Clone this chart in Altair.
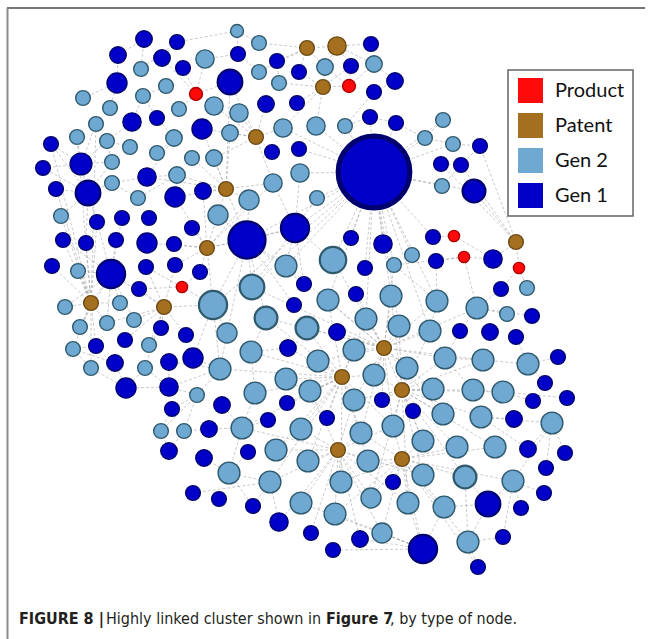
import altair as alt
import pandas as pd

# ---- node data: centre x, centre y (page units, y downwards) and radius ----
gen1_x = [144, 177, 118, 162, 183, 117, 230, 132, 157, 202, 51, 81, 43, 147, 56, 88, 175, 203,
          371, 238, 277, 351, 395, 299, 374, 266, 297, 370, 396, 374, 272, 299, 441, 480, 461, 474,
          97, 122, 149, 192, 63, 86, 116, 147, 174, 247, 52, 111, 146, 175, 200, 139, 161, 186,
          96, 125, 169, 193, 115, 126, 169, 295, 351, 383, 433, 365, 436, 304, 294, 356, 337, 288,
          287, 382, 493, 501, 532, 460, 490, 516, 558, 545, 567, 533, 172, 222, 268, 327, 209, 169,
          204, 248, 193, 219, 253, 279, 311, 333, 413, 514, 528, 565, 546, 393, 544, 488, 521, 360,
          423, 503, 478]
gen1_y = [39, 42, 55, 58, 68, 83, 82, 122, 118, 129, 144, 164, 168, 177, 189, 193, 197, 191,
          44, 54, 61, 66, 81, 72, 92, 104, 103, 117, 123, 172, 152, 149, 164, 146, 165, 191,
          222, 218, 218, 228, 240, 243, 240, 243, 244, 240, 266, 274, 267, 265, 272, 289, 328, 335,
          346, 340, 362, 358, 363, 388, 387, 228, 238, 244, 237, 268, 261, 284, 305, 294, 332, 348,
          403, 400, 259, 289, 316, 331, 332, 337, 357, 383, 398, 401, 409, 405, 420, 418, 429, 451,
          458, 452, 493, 499, 506, 522, 533, 550, 411, 419, 449, 453, 468, 482, 493, 504, 508, 539,
          549, 537, 567]
gen1_r = [10, 9, 10, 10, 9, 12, 15, 11, 9, 12, 9, 13, 9, 11, 9, 15, 12, 10,
          9, 9, 9, 9, 10, 9, 9, 10, 9, 9, 9, 43, 9, 9, 9, 9, 9, 14,
          9, 9, 9, 9, 9, 9, 9, 12, 9, 22, 9, 17, 9, 9, 9, 9, 9, 9,
          9, 9, 10, 12, 10, 12, 11, 17, 9, 11, 9, 9, 9, 9, 9, 9, 10, 10,
          9, 9, 11, 9, 9, 9, 10, 9, 9, 9, 9, 9, 9, 10, 9, 9, 10, 10,
          10, 9, 9, 9, 9, 11, 9, 9, 9, 10, 10, 9, 9, 9, 9, 15, 9, 10,
          17, 9, 9]

gen2_x = [237, 205, 141, 166, 83, 143, 214, 110, 179, 96, 77, 107, 174, 230, 130, 157, 192, 214,
          112, 177, 112, 138, 259, 325, 374, 259, 279, 239, 283, 316, 345, 425, 443, 300, 273, 249,
          317, 453, 442, 218, 61, 78, 213, 65, 120, 80, 107, 134, 227, 73, 149, 220, 91, 145,
          197, 286, 333, 394, 412, 252, 328, 391, 437, 266, 307, 366, 399, 430, 251, 354, 445, 286,
          318, 374, 407, 433, 255, 310, 354, 527, 477, 507, 483, 528, 473, 503, 161, 184, 242, 301,
          276, 308, 229, 270, 301, 443, 481, 552, 361, 393, 423, 457, 495, 368, 341, 423, 465, 513,
          371, 408, 444, 335, 382, 468]
gen2_y = [31, 59, 69, 86, 98, 96, 106, 108, 109, 124, 137, 141, 138, 133, 147, 153, 158, 158,
          162, 175, 183, 198, 43, 67, 64, 72, 83, 113, 128, 126, 126, 138, 120, 173, 183, 200,
          198, 144, 186, 215, 216, 271, 305, 307, 303, 327, 323, 320, 333, 349, 345, 369, 368, 368,
          395, 266, 260, 265, 255, 287, 300, 296, 301, 318, 328, 319, 326, 331, 352, 350, 358, 379,
          361, 375, 368, 389, 393, 391, 400, 288, 308, 314, 360, 364, 390, 392, 431, 431, 428, 429,
          450, 461, 473, 482, 503, 414, 417, 423, 433, 426, 441, 447, 447, 461, 482, 475, 477, 481,
          498, 503, 507, 514, 533, 542]
gen2_r = [8, 11, 9, 9, 9, 9, 11, 9, 9, 9, 9, 9, 10, 10, 9, 9, 9, 10,
          9, 10, 9, 9, 9, 10, 10, 9, 9, 11, 11, 11, 9, 9, 9, 11, 11, 12,
          9, 9, 9, 12, 9, 9, 17, 9, 9, 9, 9, 9, 12, 9, 9, 13, 9, 9,
          9, 13, 16, 9, 9, 15, 13, 13, 13, 14, 14, 13, 13, 13, 13, 13, 13, 13,
          13, 13, 13, 13, 13, 13, 13, 9, 13, 9, 13, 13, 13, 13, 9, 9, 13, 13,
          13, 13, 13, 13, 13, 13, 13, 13, 13, 13, 13, 13, 13, 13, 13, 13, 14, 13,
          12, 13, 13, 13, 12, 13]

patent_x = [307, 337, 323, 256, 226, 207, 91, 164, 516, 384, 342, 402, 338, 402]
patent_y = [48, 46, 87, 137, 189, 248, 303, 307, 242, 348, 377, 390, 450, 459]
patent_r = [9, 11, 9, 9, 9, 9, 9, 9, 9, 9, 9, 9, 9, 9]

product_x = [196, 349, 182, 454, 464, 519]
product_y = [94, 86, 287, 236, 257, 268]
product_r = [8, 8, 7, 7, 7, 7]

# ---- links: node -> linked nodes (A = Gen 1, B = Gen 2, P = Patent, R = Product) ----
links = {
    "P10": ["B57", "B61", "B62", "B66", "B67", "B68", "B70", "B73", "B74", "B75", "B76", "B79",
            "B65", "B64", "B60", "B56", "B71", "B63", "B96", "B99", "B100", "B101", "B81", "B83",
            "A71", "A70", "A74", "B58"],
    "P11": ["B65", "B66", "B69", "B70", "B72", "B73", "B74", "B77", "B78", "B79", "B89", "B90",
            "B91", "B92", "B99", "B100", "B104", "B105", "B64", "B61", "B52", "B94", "A72", "A73",
            "A88"],
    "P12": ["B74", "B75", "B76", "B79", "B96", "B97", "B100", "B101", "B102", "B103", "B106",
            "B107", "B110", "B67", "B68", "B71", "B83", "B85", "B86", "B62", "A99", "A74", "B109"],
    "P13": ["B90", "B92", "B99", "B104", "B105", "B109", "B112", "B113", "B95", "B94", "B91",
            "B78", "B79", "B100", "B89", "A96", "A97", "A108", "B106", "B110"],
    "P14": ["B100", "B101", "B104", "B106", "B107", "B109", "B110", "B111", "B113", "B114",
            "B102", "B103", "B108", "A109", "A104", "B99", "B105", "A111", "B112"],
    "P7": ["B41", "B42", "B44", "B46", "B47", "B50", "B53", "A47", "A48", "A55", "A41", "A42",
           "B45", "B11", "A15", "A37", "B10", "A11"],
    "P8": ["A48", "A52", "A53", "A54", "B48", "B51", "B47", "A49", "A50", "B43", "A56", "B54"],
    "P6": ["A46", "A44", "A45", "A50", "A51", "A40", "B40", "B36", "A17", "A18", "B43", "A62", "B35"],
    "P5": ["A18", "B18", "B17", "B36", "B40", "A7", "A10", "B20", "B35", "A17", "A14", "B14", "A46"],
    "P4": ["B14", "B28", "A31", "B29", "A26", "A10", "B18", "B7", "A7", "B35"],
    "P3": ["B27", "A27", "A24", "B24", "B30", "R2", "A22", "B29"],
    "P1": ["B23", "A21", "A24", "B26", "B24", "P2"],
    "P2": ["B25", "A19", "B24", "A22"],
    "P9": ["A36", "A75", "R6", "A33", "A34", "A35"],
    "R1": ["A4", "B9", "A7", "B2", "A5"],
    "R2": ["B24", "A22", "B25"],
    "R3": ["A52", "B43", "A51", "A49"],
    "R4": ["A65", "A75"],
    "R5": ["A67", "B58", "B81", "A75"],
    "R6": ["B80", "A76"],
    "A30": ["B31", "B34", "A32", "B37", "A28", "A29", "B32", "B33", "B39", "A63", "A64", "B57",
            "B59", "B58", "B62", "B63", "A65", "A66", "B56", "A62", "B29", "B30", "A36", "B38",
            "A46", "B43", "B60", "B61", "B66", "B67", "B68"],
    "A46": ["B43", "B49", "B60", "B40", "B36", "A62", "B56", "B64", "A68", "A69"],
    "A62": ["B56", "B57", "B60", "B34", "B37", "A68", "B35"],
    "A48": ["B44", "B45", "B46", "B47", "B42", "A43", "A38", "A37", "A41", "B48"],
    "A16": ["B21", "B19", "A12", "A13", "A15", "B41", "A42", "A11", "A37"],
    "A12": ["B11", "B12", "A11", "A13", "B10", "B19"],
    "B52": ["A58", "B49", "A57", "B55", "A61"],
    "B43": ["B49", "A58", "B52"],
    "B69": ["A72", "B77", "B64"],
    "B89": ["A86", "A87", "A89", "B93", "B77"],
    "B93": ["A91", "A92", "A95", "B94"],
    "B94": ["A95", "A96", "A93"],
    "B87": ["A85", "A90"],
    "B88": ["A89", "A90"],
    "B97": ["A100", "B98", "A101"],
    "B98": ["A102", "A101", "A103", "B108"],
    "B108": ["A105", "A107", "A110"],
    "B114": ["A110", "A111", "B107"],
    "A109": ["B110", "B111", "B113", "B95", "B112", "A98", "A108"],
    "A106": ["B107", "B111", "B114", "B108"],
    "B84": ["A81", "A80", "B83", "A82"],
    "B86": ["A83", "A84", "B85"],
    "B81": ["A78", "A76", "B82", "A77"],
    "B71": ["A78", "B83", "B85"],
    "B63": ["A67", "B68", "B58"],
    "A60": ["B53", "B54", "A59", "A61"],
    "A61": ["B55", "B54", "A57"],
    "B50": ["A55", "A59", "B53"],
    "B55": ["A85", "B87", "B88"],
    "A1": ["A3", "B3"],
    "A2": ["B3", "A4"],
    "A6": ["B5", "B8", "A3"],
    "B6": ["A8", "A9", "B4"],
    "B12": ["A8", "B15", "B19"],
    "B13": ["A9", "B16", "A14"],
    "B20": ["A14", "A17", "B22"],
    "B21": ["A14", "B22"],
    "B1": ["A2", "A20", "B23"],
    "A20": ["B26", "B2"],
    "A21": ["B26", "B27"],
    "A23": ["B25", "A25"],
    "A25": ["B31"],
    "A28": ["A29", "B31"],
    "B32": ["A29", "B33", "B38"],
    "A34": ["B38", "A35"],
    "A35": ["B39", "A33"],
}

kind_order = ["Product", "Patent", "Gen 2", "Gen 1"]
fill_colors = ["#ff0a0a", "#a4701f", "#6fa8d0", "#0000c8"]
edge_colors = ["#b00000", "#6b4a12", "#2f5a6e", "#00006e"]

groups = [
    ("Gen 1", "A", gen1_x, gen1_y, gen1_r),
    ("Gen 2", "B", gen2_x, gen2_y, gen2_r),
    ("Patent", "P", patent_x, patent_y, patent_r),
    ("Product", "R", product_x, product_y, product_r),
]
rows = []
for kind, prefix, xs, ys, rs in groups:
    for i, (x, y, r) in enumerate(zip(xs, ys, rs), start=1):
        rows.append({"id": f"{prefix}{i}", "kind": kind, "x": x, "y": y, "r": r})
nodes = pd.DataFrame(rows)
# largest nodes drawn first so smaller neighbours stay visible
nodes = nodes.sort_values("r", ascending=False, kind="stable").reset_index(drop=True)

pos = nodes.set_index("id")
edge_rows = []
for src, targets in links.items():
    for dst in targets:
        edge_rows.append({"x": pos.at[src, "x"], "y": pos.at[src, "y"],
                          "x2": pos.at[dst, "x"], "y2": pos.at[dst, "y"]})
edges = pd.DataFrame(edge_rows)

W, H = 654, 639
xs = alt.Scale(domain=[0, W], nice=False, zero=False)
ys = alt.Scale(domain=[0, H], nice=False, zero=False, reverse=True)

edge_layer = alt.Chart(edges).mark_rule(
    color="#8a8a8a", strokeWidth=0.6, strokeDash=[3, 2], opacity=0.75
).encode(
    x=alt.X("x:Q", scale=xs, axis=None),
    y=alt.Y("y:Q", scale=ys, axis=None),
    x2="x2:Q",
    y2="y2:Q",
)

node_layer = alt.Chart(nodes).transform_calculate(
    sw="datum.r >= 30 ? 5 : (datum.r >= 14 ? 2.2 : 1.4)"
).transform_calculate(
    area="PI * (datum.r - datum.sw / 2) * (datum.r - datum.sw / 2)"
).mark_circle(opacity=1).encode(
    x=alt.X("x:Q", scale=xs, axis=None),
    y=alt.Y("y:Q", scale=ys, axis=None),
    size=alt.Size("area:Q", scale=None),
    fill=alt.Fill(
        "kind:N",
        scale=alt.Scale(domain=kind_order, range=fill_colors),
        legend=alt.Legend(title=None, orient="none", legendX=508, legendY=70,
                          direction="vertical", symbolType="square"),
    ),
    stroke=alt.Stroke("kind:N", scale=alt.Scale(domain=kind_order, range=edge_colors), legend=None),
    strokeWidth=alt.StrokeWidth("sw:Q", scale=None),
)

one = pd.DataFrame({"k": [0]})
frame_top = alt.Chart(one).mark_rule(color="#4a4a4a", strokeWidth=1.5).encode(
    x=alt.value(7), x2=alt.value(645), y=alt.value(8)
)
frame_left = alt.Chart(one).mark_rule(color="#8a8a8a", strokeWidth=2).encode(
    x=alt.value(7.5), y=alt.value(8), y2=alt.value(H)
)

# caption, set in pieces so the bold runs can be mixed with regular text
caption_parts = [
    ("FIGURE 8 |", "bold", 19),
    ("Highly linked cluster shown in", "normal", 106),
    ("Figure 7", "bold", 326),
    (", by type of node.", "normal", 390),
]
caption_layers = []
for text, weight, left in caption_parts:
    caption_layers.append(
        alt.Chart(pd.DataFrame({"t": [text]})).mark_text(
            align="left", baseline="alphabetic", fontSize=16, fontWeight=weight,
            font="DejaVu Sans Condensed, sans-serif", color="#231f20"
        ).encode(x=alt.value(left), y=alt.value(624), text="t:N")
    )

chart = alt.layer(edge_layer, node_layer, frame_top, frame_left, *caption_layers).properties(
    width=W, height=H, padding=0, autosize="none", background="white"
).configure_view(stroke=None).configure_legend(
    symbolSize=625, symbolStrokeWidth=0, symbolOpacity=1, symbolOffset=2, labelFont="Lato",
    labelFontSize=20, labelColor="#111111", labelOffset=12, rowPadding=10,
    padding=8, strokeColor="#666666", strokeWidth=1.5, fillColor="white", labelLimit=200
)

chart.save("out.html", embed_options={"renderer": "svg", "actions": False})
